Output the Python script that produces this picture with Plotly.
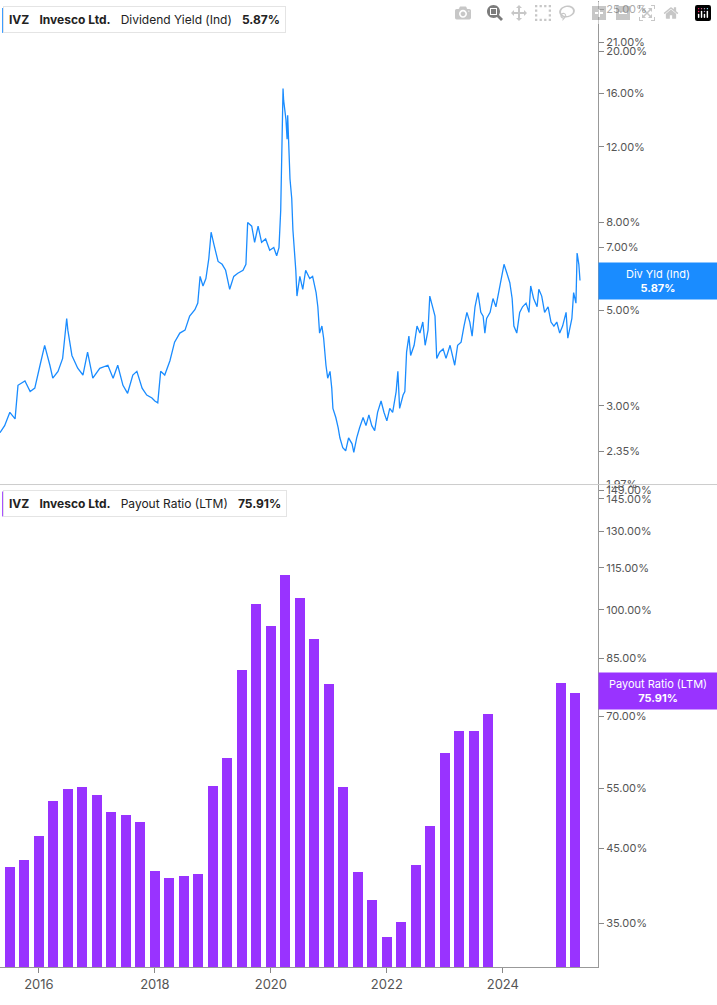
import plotly.graph_objects as go

# dividend yield (Ind), % -- decimal year samples
yield_years = [
    2015.33, 2015.41, 2015.50, 2015.59, 2015.64, 2015.76, 2015.85, 2015.93, 2016.02, 2016.10,
    2016.19, 2016.24, 2016.33, 2016.41, 2016.48, 2016.50, 2016.57, 2016.67, 2016.76, 2016.84,
    2016.93, 2017.05, 2017.19, 2017.28, 2017.36, 2017.45, 2017.53, 2017.62, 2017.69, 2017.78,
    2017.86, 2017.95, 2018.00, 2018.05, 2018.10, 2018.17, 2018.26, 2018.34, 2018.43, 2018.52,
    2018.60, 2018.69, 2018.74, 2018.78, 2018.83, 2018.88, 2018.93, 2018.97, 2019.02, 2019.09,
    2019.16, 2019.22, 2019.29, 2019.36, 2019.43, 2019.52, 2019.57, 2019.60, 2019.67, 2019.72,
    2019.78, 2019.84, 2019.91, 2019.98, 2020.05, 2020.10, 2020.14, 2020.17, 2020.21, 2020.22,
    2020.26, 2020.28, 2020.29, 2020.33, 2020.36, 2020.38, 2020.43, 2020.45, 2020.50, 2020.55,
    2020.60, 2020.67, 2020.72, 2020.78, 2020.81, 2020.84, 2020.88, 2020.91, 2020.95, 2020.98,
    2021.02, 2021.05, 2021.07, 2021.12, 2021.16, 2021.19, 2021.24, 2021.29, 2021.34, 2021.40,
    2021.43, 2021.48, 2021.53, 2021.59, 2021.64, 2021.69, 2021.74, 2021.79, 2021.84, 2021.90,
    2021.95, 2022.00, 2022.05, 2022.10, 2022.16, 2022.19, 2022.22, 2022.28, 2022.31, 2022.34,
    2022.38, 2022.41, 2022.47, 2022.52, 2022.57, 2022.62, 2022.66, 2022.71, 2022.74, 2022.79,
    2022.83, 2022.86, 2022.91, 2022.97, 2023.02, 2023.09, 2023.14, 2023.17, 2023.22, 2023.28,
    2023.33, 2023.38, 2023.43, 2023.47, 2023.52, 2023.57, 2023.62, 2023.66, 2023.69, 2023.72,
    2023.78, 2023.83, 2023.88, 2023.93, 2023.98, 2024.02, 2024.07, 2024.12, 2024.16, 2024.19,
    2024.24, 2024.29, 2024.34, 2024.40, 2024.45, 2024.48, 2024.53, 2024.59, 2024.62, 2024.67,
    2024.72, 2024.78, 2024.83, 2024.88, 2024.93, 2024.98, 2025.03, 2025.09, 2025.12, 2025.16,
    2025.19, 2025.22, 2025.26, 2025.28, 2025.31, 2025.33,
]
yield_values = [
    2.60, 2.70, 2.90, 2.80, 3.35, 3.43, 3.24, 3.30, 3.73, 4.15,
    3.73, 3.48, 3.61, 3.87, 4.79, 4.50, 3.93, 3.67, 3.54, 4.00,
    3.48, 3.67, 3.73, 3.48, 3.73, 3.35, 3.21, 3.54, 3.61, 3.30,
    3.18, 3.13, 3.08, 3.05, 3.61, 3.54, 3.82, 4.22, 4.43, 4.50,
    4.85, 5.02, 5.20, 6.00, 5.70, 5.93, 6.60, 7.60, 7.10, 6.50,
    6.40, 6.20, 5.60, 6.00, 6.10, 6.20, 6.40, 8.00, 7.85, 7.20,
    7.85, 7.20, 7.33, 6.90, 7.00, 6.70, 7.00, 8.55, 16.40, 15.40,
    13.90, 12.50, 14.20, 10.10, 9.10, 7.70, 6.20, 5.40, 6.00, 5.60,
    6.20, 5.93, 6.00, 5.50, 5.10, 4.43, 4.60, 4.31, 3.73, 3.48,
    3.61, 3.30, 2.96, 2.82, 2.67, 2.53, 2.40, 2.36, 2.53, 2.45,
    2.34, 2.53, 2.67, 2.82, 2.70, 2.86, 2.70, 2.63, 2.90, 3.08,
    2.90, 2.77, 2.96, 2.90, 3.24, 3.61, 2.96, 3.18, 3.24, 4.00,
    4.36, 3.93, 4.15, 4.60, 4.43, 4.70, 4.15, 4.50, 5.40, 5.10,
    4.85, 3.87, 4.00, 4.07, 3.87, 4.15, 3.87, 3.73, 4.15, 4.22,
    4.60, 4.95, 4.70, 4.36, 5.10, 5.50, 4.95, 4.85, 4.43, 4.79,
    4.95, 5.33, 5.10, 5.50, 5.93, 6.40, 6.10, 5.80, 5.33, 4.60,
    4.43, 4.95, 5.10, 5.20, 4.95, 5.70, 5.33, 5.10, 5.60, 5.40,
    4.95, 5.10, 4.70, 4.60, 4.70, 4.43, 4.60, 4.95, 4.31, 4.60,
    4.79, 5.50, 5.20, 6.80, 6.40, 5.87,
]

# payout ratio (LTM), % -- quarter ends
quarters = [
    2015.50, 2015.75, 2016.00, 2016.25, 2016.50, 2016.75, 2017.00, 2017.25, 2017.50, 2017.75,
    2018.00, 2018.25, 2018.50, 2018.75, 2019.00, 2019.25, 2019.50, 2019.75, 2020.00, 2020.25,
    2020.50, 2020.75, 2021.00, 2021.25, 2021.50, 2021.75, 2022.00, 2022.25, 2022.50, 2022.75,
    2023.00, 2023.25, 2023.50, 2023.75, 2024.00, 2024.25, 2024.50, 2024.75, 2025.00, 2025.25,
]
payout = [
    42.3, 43.3, 46.9, 52.8, 55.0, 55.2, 53.9, 50.9, 50.4, 49.2,
    41.7, 40.8, 41.0, 41.3, 55.5, 60.9, 81.8, 102.0, 94.9, 112.4,
    104.1, 90.9, 78.1, 55.2, 41.6, 37.9, 33.4, 35.2, 42.6, 48.6,
    61.9, 66.8, 66.6, 70.7, None, None, None, None, 78.3, 75.8,
]

year_ticks = [2016, 2018, 2020, 2022, 2024]
yield_ticks = [1.97, 2.35, 3, 5, 7, 8, 12, 16, 20, 21, 25]
payout_ticks = [35, 45, 55, 70, 85, 100, 115, 130, 145, 149]

BLUE = "#1a8cff"
PURPLE = "#9933ff"
FONT = "Inter"

fig = go.Figure()
fig.add_trace(go.Scatter(x=yield_years, y=yield_values, mode="lines",
                         line=dict(color=BLUE, width=1.3), xaxis="x", yaxis="y"))
fig.add_trace(go.Bar(x=quarters, y=payout, marker=dict(color=PURPLE, line_width=0),
                     width=0.17, xaxis="x2", yaxis="y2"))

xr = [2015.33, 2025.64]
fig.update_layout(
    width=717, height=1005, showlegend=False,
    margin=dict(l=0, r=0, t=0, b=0),
    plot_bgcolor="white", paper_bgcolor="white",
    font=dict(family=FONT, size=12, color="#444"),
    xaxis=dict(domain=[0, 0.834], range=xr, showticklabels=False, showgrid=False,
               zeroline=False, anchor="y"),
    yaxis=dict(domain=[0.515, 1], type="log", range=[0.2945, 1.418], side="right",
               tickvals=yield_ticks, ticktext=["%.2f%%" % v for v in yield_ticks],
               showgrid=False, zeroline=False, ticks="outside", ticklen=5,
               tickcolor="#888", tickfont=dict(size=11, color="#555"),
               showline=True, linecolor="#999", anchor="x"),
    xaxis2=dict(domain=[0, 0.834], range=xr, tickvals=year_ticks,
                ticktext=[str(y) for y in year_ticks], showgrid=False, zeroline=False,
                ticks="outside", ticklen=5, tickcolor="#888",
                tickfont=dict(size=13, color="#555"), showline=True, linecolor="#999",
                anchor="y2"),
    yaxis2=dict(domain=[0.031, 0.515], type="log", range=[1.48, 2.182], side="right",
                tickvals=payout_ticks, ticktext=["%.2f%%" % v for v in payout_ticks],
                showgrid=False, zeroline=False, ticks="outside", ticklen=5,
                tickcolor="#888", tickfont=dict(size=11, color="#555"),
                showline=True, linecolor="#999", anchor="x2"),
    bargap=0,
)

# panel separator
fig.add_shape(type="line", xref="paper", yref="paper", x0=0, x1=1, y0=0.515, y1=0.515,
              line=dict(color="#ccc", width=1))

def header(y, color, name, value):
    fig.add_annotation(
        xref="paper", yref="paper", x=0.004, y=y, xanchor="left", yanchor="top",
        text="<b>IVZ</b>   <b>Invesco Ltd.</b>   %s   <b>%s</b>" % (name, value),
        showarrow=False, font=dict(size=12, color="#222"), bgcolor="white",
        bordercolor="#e4e4e4", borderwidth=1, borderpad=5, align="left")
    fig.add_shape(type="rect", xref="paper", yref="paper", x0=0.003, x1=0.007,
                  y0=y - 0.027, y1=y - 0.002, fillcolor=color, line_width=0)

header(0.995, BLUE, "Dividend Yield (Ind)", "5.87%")
header(0.51, PURPLE, "Payout Ratio (LTM)", "75.91%")

def value_tag(y, color, text):
    fig.add_annotation(
        xref="paper", yref="paper", x=0.9175, y=y, xanchor="center", yanchor="middle",
        text=text, showarrow=False, font=dict(size=11, color="white"), bgcolor=color,
        borderpad=4, width=110, align="center")

value_tag(1 - 282 / 1005, BLUE, "Div Yld (Ind)<br><b>5.87%</b>")
value_tag(1 - 696 / 1005, PURPLE, "Payout Ratio (LTM)<br><b>75.91%</b>")

fig.write_html("out.html", post_script="document.body.style.margin='0';")
